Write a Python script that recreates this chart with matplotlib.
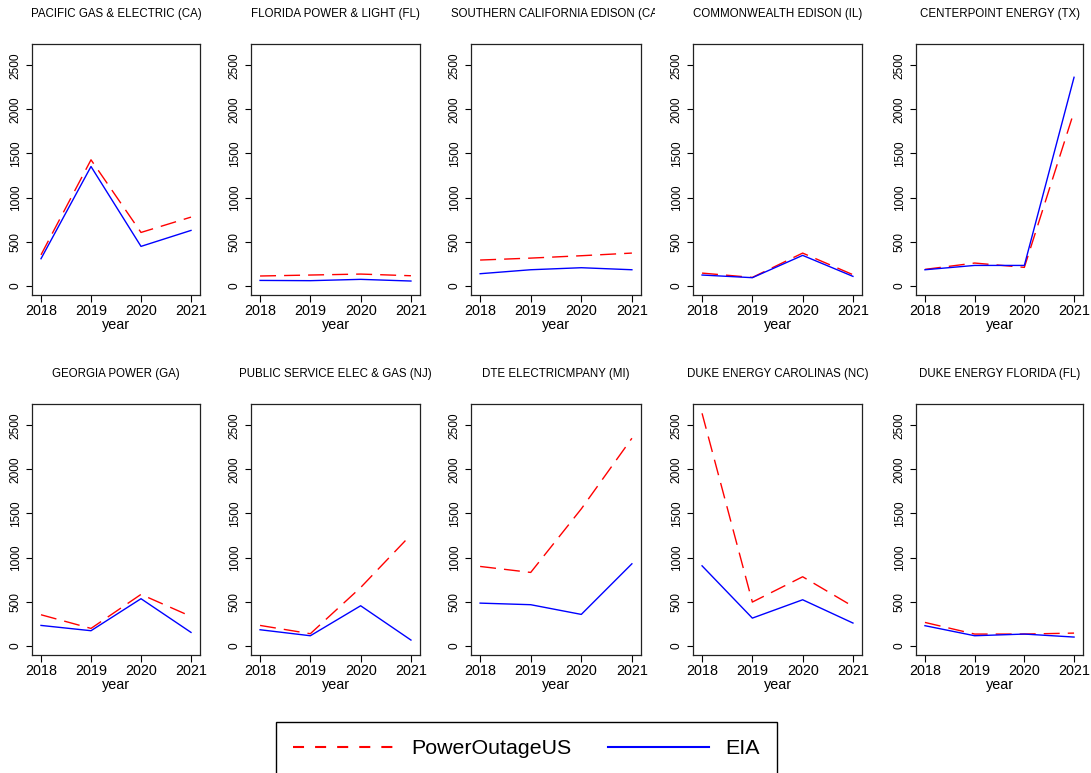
import matplotlib
matplotlib.use("Agg")
import matplotlib.pyplot as plt
from matplotlib.lines import Line2D
from matplotlib.transforms import Bbox, TransformedBbox

plt.rcParams.update({
    "font.family": ["Liberation Sans", "DejaVu Sans"],
    "figure.facecolor": "white",
})

years = [2018, 2019, 2020, 2021]
utilities = [
    "PACIFIC GAS & ELECTRIC (CA)", "FLORIDA POWER & LIGHT (FL)",
    "SOUTHERN CALIFORNIA EDISON (CA)", "COMMONWEALTH EDISON (IL)",
    "CENTERPOINT ENERGY (TX)", "GEORGIA POWER (GA)",
    "PUBLIC SERVICE ELEC & GAS (NJ)", "DTE ELECTRICMPANY (MI)",
    "DUKE ENERGY CAROLINAS (NC)", "DUKE ENERGY FLORIDA (FL)",
]
# customers affected (one row per utility)
pous_vals = [
    [350, 1428, 604, 778],
    [110, 121, 132, 113],
    [291, 313, 340, 370],
    [143, 94, 370, 125],
    [185, 257, 208, 1975],
    [351, 196, 582, 332],
    [230, 136, 660, 1258],
    [899, 831, 1552, 2353],
    [2636, 495, 782, 446],
    [264, 132, 132, 143],
]
eia_vals = [
    [306, 1352, 446, 627],
    [60, 57, 72, 53],
    [136, 181, 204, 181],
    [121, 91, 344, 106],
    [181, 230, 230, 2364],
    [230, 170, 533, 151],
    [181, 113, 453, 64],
    [483, 465, 355, 929],
    [906, 313, 521, 257],
    [227, 113, 132, 98],
]
yticks = [0, 500, 1000, 1500, 2000, 2500]

W, H = 1091, 773
fig = plt.figure(figsize=(W / 100, H / 100), dpi=100)

# panel boxes in pixels (left, right) per column, (top, bottom) per row
col_lr = [(32, 200), (251, 420), (471, 641), (693, 862), (916, 1083)]
row_tb = [(44, 295), (404, 655)]
region_w = W / 5

ymax = max(max(max(p) for p in pous_vals), max(max(e) for e in eia_vals))
ypad = ymax * 0.04

for i, name in enumerate(utilities):
    r, c = divmod(i, 5)
    l, rr = col_lr[c]
    t, b = row_tb[r]
    ax = fig.add_axes([l / W, 1 - b / H, (rr - l) / W, (b - t) / H])
    ax.plot(years, pous_vals[i], color="#FF0000", lw=1.0, dashes=(11.5, 5.8))
    ax.plot(years, eia_vals[i], color="#0000FF", lw=1.0)
    ax.set_xlim(2018 - 0.18, 2021 + 0.18)
    ax.set_ylim(-ypad, ymax + ypad)
    ax.set_xticks(years)
    ax.set_yticks(yticks)
    ax.tick_params(axis="x", labelsize=10.4, length=5, width=0.8, pad=1.5)
    ax.tick_params(axis="y", labelsize=8.6, length=4.3, width=0.8, pad=3,
                   labelrotation=90)
    for lab in ax.get_yticklabels():
        lab.set_va("center")
    for sp in ax.spines.values():
        sp.set_linewidth(0.9)
        sp.set_color("#222222")
    ax.set_xlabel("year", fontsize=10.4, labelpad=0)
    title = ax.set_title(name, fontsize=8.3, pad=19.5)
    # titles are cut at the edge of their own panel region
    clip = TransformedBbox(Bbox.from_extents(c * region_w / W, 0,
                                             (c + 1) * region_w / W, 1),
                           fig.transFigure)
    title.set_clip_box(clip)
    title.set_clip_on(True)

handles = [
    Line2D([], [], color="#FF0000", lw=1.5, dashes=(5.3, 5.3),
           label="PowerOutageUS"),
    Line2D([], [], color="#0000FF", lw=1.5, label="EIA"),
]
leg = fig.legend(handles=handles, loc="upper center",
                 bbox_to_anchor=(526.5 / W, 1 - 722 / H), ncol=2,
                 fontsize=15.4, handlelength=4.72, handletextpad=0.8,
                 columnspacing=1.7, borderpad=0.8, borderaxespad=0,
                 fancybox=False, framealpha=1, edgecolor="black")
leg.get_frame().set_linewidth(1.0)

fig.savefig("out.png", dpi=100, facecolor="white")
